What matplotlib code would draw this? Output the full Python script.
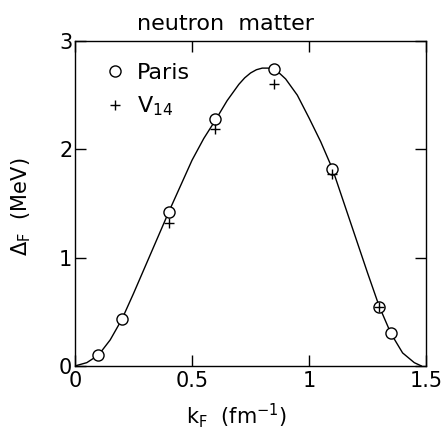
import matplotlib
matplotlib.use('Agg')
import matplotlib.pyplot as plt

plt.rcParams['font.family'] = ['DejaVu Sans']
plt.rcParams['mathtext.fontset'] = 'dejavusans'

# smooth curve
curve_kf = [0.0, 0.05, 0.1, 0.15, 0.2, 0.25, 0.3, 0.35, 0.4, 0.45, 0.5, 0.55,
            0.6, 0.65, 0.7, 0.725, 0.75, 0.775, 0.8, 0.825, 0.85, 0.875, 0.9,
            0.95, 1.0, 1.05, 1.1, 1.15, 1.2, 1.25, 1.3, 1.35, 1.4, 1.45, 1.48]
curve_gap = [0.0, 0.03, 0.10, 0.24, 0.43, 0.67, 0.92, 1.17, 1.42, 1.66, 1.90, 2.10,
             2.27, 2.45, 2.60, 2.66, 2.705, 2.735, 2.75, 2.75, 2.735, 2.70, 2.65,
             2.50, 2.29, 2.07, 1.82, 1.50, 1.18, 0.86, 0.55, 0.30, 0.12, 0.03, 0.0]

# Paris potential points
paris_kf = [0.1, 0.2, 0.4, 0.6, 0.85, 1.1, 1.3, 1.35]
paris_gap = [0.10, 0.43, 1.42, 2.28, 2.745, 1.82, 0.54, 0.30]

# V14 potential points
v14_kf = [0.4, 0.6, 0.85, 1.1, 1.3]
v14_gap = [1.32, 2.19, 2.60, 1.77, 0.54]

fig = plt.figure(figsize=(4.47, 4.32), dpi=100)
ax = fig.add_axes([0.168, 0.153, 0.785, 0.752])

ax.plot(curve_kf, curve_gap, color='black', lw=1.0, zorder=2)
ax.plot(paris_kf, paris_gap, 'o', ms=8, mfc='white', mec='black', mew=1.0,
        ls='none', zorder=3, label='Paris')
ax.plot(v14_kf, v14_gap, '+', ms=7, color='black', mew=1.0,
        ls='none', zorder=4, label='V$_{14}$')

ax.set_xlim(0, 1.5)
ax.set_ylim(0, 3)
ax.set_xticks([0, 0.5, 1, 1.5])
ax.set_xticklabels(['0', '0.5', '1', '1.5'])
ax.set_yticks([0, 1, 2, 3])
ax.tick_params(direction='in', top=True, right=True, length=8, width=1.0,
               labelsize=15, pad=4)
ax.tick_params(axis='y', pad=2)
for s in ax.spines.values():
    s.set_linewidth(1.0)

ax.set_title('neutron  matter', fontsize=16, pad=8, x=0.43)
ax.set_xlabel('k$_\\mathrm{F}$  (fm$^{-1}$)', fontsize=15)
ax.xaxis.set_label_coords(0.459, -0.11)
ax.set_ylabel('$\\Delta_\\mathrm{F}$  (MeV)', fontsize=15)
ax.yaxis.set_label_coords(-0.12, 0.49)

ax.legend(loc='upper left', frameon=False, fontsize=16, handlelength=0.6,
          handletextpad=0.7, labelspacing=0.5, borderaxespad=0.6, numpoints=1,
          bbox_to_anchor=(0.03, 1.0))

fig.savefig('out.png', dpi=100)
